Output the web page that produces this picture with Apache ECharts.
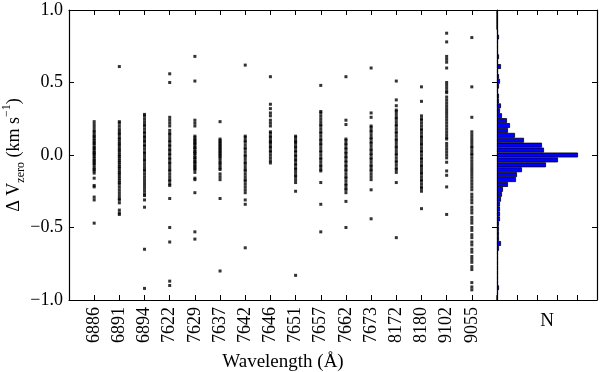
<!DOCTYPE html>
<html>
<head>
<meta charset="utf-8">
<script src="https://cdn.jsdelivr.net/npm/echarts@6/dist/echarts.min.js"></script>
<style>
  html, body { margin: 0; padding: 0; background: #fff; }
  #chart { width: 600px; height: 372px; }
</style>
</head>
<body>
<div id="chart"></div>
<script>
// wavelength columns, left to right
var wavelengths = ['6886', '6891', '6894', '7622', '7629', '7637', '7642', '7646',
                   '7651', '7657', '7662', '7673', '8172', '8180', '9102', '9055'];

// delta V_zero values read for each column (km/s)
var c6886 = [0.23, 0.21, 0.19, 0.17, 0.16, 0.145, 0.13, 0.125, 0.11, 0.1, 0.085, 0.08, 0.065, 0.05, 0.045, 0.03, 0.02, 0.01, 0.005, -0.01, -0.02, -0.035, -0.04, -0.055, -0.06, -0.075, -0.09, -0.1, -0.11, -0.125, -0.16, -0.21, -0.22, -0.29, -0.31, -0.47];
var c6891 = [0.61, 0.23, 0.22, 0.2, 0.18, 0.165, 0.15, 0.14, 0.12, 0.11, 0.095, 0.08, 0.07, 0.055, 0.04, 0.03, 0.015, 0.0, -0.01, -0.025, -0.04, -0.05, -0.065, -0.08, -0.09, -0.105, -0.12, -0.13, -0.145, -0.16, -0.175, -0.19, -0.2, -0.22, -0.24, -0.26, -0.28, -0.3, -0.31, -0.33, -0.38, -0.4, -0.41];
var c6894 = [0.28, 0.27, 0.25, 0.23, 0.21, 0.2, 0.18, 0.16, 0.15, 0.13, 0.12, 0.1, 0.09, 0.07, 0.06, 0.04, 0.02, 0.01, -0.01, -0.03, -0.04, -0.06, -0.08, -0.1, -0.11, -0.13, -0.15, -0.17, -0.19, -0.21, -0.23, -0.25, -0.27, -0.28, -0.31, -0.36, -0.65, -0.92];
var c7622 = [0.56, 0.5, 0.26, 0.24, 0.22, 0.2, 0.17, 0.15, 0.14, 0.12, 0.1, 0.09, 0.07, 0.06, 0.04, 0.03, 0.01, 0.0, -0.02, -0.03, -0.05, -0.06, -0.08, -0.1, -0.11, -0.13, -0.15, -0.17, -0.18, -0.2, -0.21, -0.3, -0.5, -0.6, -0.87, -0.9];
var c7629 = [0.68, 0.51, 0.24, 0.22, 0.2, 0.13, 0.12, 0.105, 0.1, 0.085, 0.08, 0.07, 0.055, 0.05, 0.04, 0.025, 0.02, 0.01, 0.0, -0.015, -0.02, -0.03, -0.045, -0.05, -0.06, -0.075, -0.08, -0.095, -0.1, -0.12, -0.16, -0.17, -0.26, -0.53, -0.58];
var c7637 = [0.23, 0.11, 0.1, 0.09, 0.08, 0.07, 0.06, 0.05, 0.04, 0.03, 0.02, 0.01, 0.0, -0.01, -0.02, -0.035, -0.05, -0.06, -0.075, -0.09, -0.1, -0.13, -0.15, -0.17, -0.3, -0.8];
var c7642 = [0.62, 0.13, 0.12, 0.1, 0.09, 0.07, 0.05, 0.04, 0.02, 0.0, -0.01, -0.03, -0.05, -0.06, -0.08, -0.1, -0.11, -0.13, -0.15, -0.17, -0.18, -0.2, -0.22, -0.24, -0.26, -0.31, -0.34, -0.64];
var c7646 = [0.54, 0.35, 0.32, 0.29, 0.27, 0.24, 0.22, 0.2, 0.16, 0.15, 0.13, 0.12, 0.1, 0.09, 0.08, 0.06, 0.05, 0.03, 0.02, 0.0, -0.02, -0.04, -0.055];
var c7651 = [0.13, 0.12, 0.1, 0.09, 0.08, 0.06, 0.05, 0.03, 0.02, 0.0, -0.01, -0.03, -0.04, -0.06, -0.07, -0.09, -0.1, -0.12, -0.14, -0.15, -0.17, -0.19, -0.25, -0.83];
var c7657 = [0.48, 0.3, 0.29, 0.27, 0.25, 0.23, 0.21, 0.2, 0.18, 0.16, 0.15, 0.13, 0.11, 0.1, 0.08, 0.07, 0.05, 0.03, 0.02, 0.0, -0.02, -0.03, -0.05, -0.07, -0.08, -0.1, -0.11, -0.19, -0.34, -0.53];
var c7662 = [0.54, 0.24, 0.21, 0.11, 0.1, 0.08, 0.07, 0.05, 0.04, 0.02, 0.01, -0.01, -0.02, -0.04, -0.05, -0.07, -0.08, -0.1, -0.11, -0.13, -0.15, -0.16, -0.18, -0.2, -0.21, -0.23, -0.24, -0.26, -0.32, -0.5];
var c7673 = [0.6, 0.29, 0.26, 0.2, 0.19, 0.17, 0.16, 0.14, 0.12, 0.11, 0.09, 0.08, 0.06, 0.04, 0.03, 0.01, 0.0, -0.02, -0.03, -0.05, -0.07, -0.08, -0.1, -0.11, -0.13, -0.15, -0.17, -0.24, -0.44];
var c8172 = [0.51, 0.38, 0.34, 0.31, 0.3, 0.28, 0.26, 0.25, 0.23, 0.21, 0.2, 0.18, 0.16, 0.15, 0.13, 0.11, 0.1, 0.08, 0.06, 0.05, 0.03, 0.01, 0.0, -0.02, -0.04, -0.05, -0.07, -0.09, -0.1, -0.12, -0.19, -0.57];
var c8180 = [0.47, 0.37, 0.27, 0.25, 0.24, 0.22, 0.2, 0.18, 0.17, 0.15, 0.13, 0.12, 0.1, 0.08, 0.07, 0.05, 0.03, 0.02, 0.0, -0.02, -0.03, -0.05, -0.07, -0.08, -0.1, -0.12, -0.13, -0.15, -0.17, -0.18, -0.2, -0.22, -0.23, -0.25, -0.37];
var c9102 = [0.84, 0.78, 0.68, 0.66, 0.64, 0.6, 0.5, 0.48, 0.46, 0.44, 0.43, 0.4, 0.38, 0.36, 0.34, 0.32, 0.3, 0.28, 0.26, 0.24, 0.22, 0.2, 0.18, 0.16, 0.14, 0.12, 0.11, 0.08, 0.06, 0.04, 0.02, 0.0, -0.02, -0.05, -0.11, -0.14, -0.22, -0.41];
var c9055 = [0.81, 0.47, 0.26, 0.16, 0.14, 0.12, 0.1, 0.08, 0.06, 0.05, 0.03, 0.01, 0.0, -0.02, -0.04, -0.06, -0.08, -0.1, -0.12, -0.14, -0.16, -0.18, -0.2, -0.22, -0.24, -0.27, -0.29, -0.31, -0.33, -0.36, -0.38, -0.4, -0.43, -0.45, -0.47, -0.5, -0.52, -0.55, -0.57, -0.6, -0.62, -0.65, -0.67, -0.7, -0.72, -0.74, -0.77, -0.79, -0.88, -0.91, -0.93];

var columns = [c6886, c6891, c6894, c7622, c7629, c7637, c7642, c7646,
               c7651, c7657, c7662, c7673, c8172, c8180, c9102, c9055];

// histogram counts, 59 equal bins from -1 (first) to +1 (last)
var histCounts = [0, 1, 2, 1, 1, 1, 1, 1, 1, 1,
                  2, 4, 2, 2, 2, 2, 3, 3, 3, 3,
                  4, 5, 6, 11, 19, 20, 25, 49, 61, 81,
                  47, 45, 27, 18, 11, 13, 10, 5, 3, 4,
                  2, 2, 1, 2, 3, 2, 1, 4, 1, 2,
                  1, 1, 1, 2, 1, 0, 0, 0, 0];

var points = [];
columns.forEach(function (col, i) {
    col.forEach(function (v) { points.push([i + 1, v]); });
});

var serif = 'Liberation Serif, DejaVu Serif, serif';
var fmtY = function (v) { return (v < 0 ? '\u2212' : '') + Math.abs(v).toFixed(1); };
var tick = { show: true, inside: true, length: 5, lineStyle: { color: '#000', width: 1 } };
var line = { show: true, onZero: false, lineStyle: { color: '#000', width: 1.2 } };

var chart = echarts.init(document.getElementById('chart'));
chart.setOption({
    animation: false,
    grid: [
        { left: 69, top: 10, width: 428, height: 290, outerBoundsMode: 'none', containLabel: false },
        { left: 497, top: 10, width: 100, height: 290, outerBoundsMode: 'none', containLabel: false }
    ],
    xAxis: [
        {
            gridIndex: 0, type: 'value', min: 0, max: 17, interval: 1,
            axisLine: line, axisTick: tick, splitLine: { show: false },
            axisLabel: {
                rotate: 90, margin: 7, color: '#000', fontSize: 18, fontFamily: serif,
                formatter: function (v) { return wavelengths[v - 1] || ''; }
            },
            name: 'Wavelength (\u00c5)', nameLocation: 'middle', nameGap: 53, nameMoveOverlap: false,
            nameTextStyle: { color: '#000', fontSize: 19, fontFamily: serif }
        },
        {
            gridIndex: 0, type: 'value', position: 'top', min: 0, max: 17, interval: 1,
            axisLine: line, axisTick: tick, axisLabel: { show: false }, splitLine: { show: false }
        },
        {
            gridIndex: 1, type: 'value', min: 0, max: 100, interval: 20,
            axisLine: line, axisTick: tick, axisLabel: { show: false }, splitLine: { show: false },
            name: 'N', nameLocation: 'middle', nameGap: 12,
            nameTextStyle: { color: '#000', fontSize: 19, fontFamily: serif }
        },
        {
            gridIndex: 1, type: 'value', position: 'top', min: 0, max: 100, interval: 20,
            axisLine: line, axisTick: tick, axisLabel: { show: false }, splitLine: { show: false }
        }
    ],
    yAxis: [
        {
            gridIndex: 0, type: 'value', min: -1, max: 1, interval: 0.5,
            axisLine: line, axisTick: tick, splitLine: { show: false },
            axisLabel: { margin: 6, color: '#000', fontSize: 18, fontFamily: serif, formatter: fmtY },
            name: '{a|\u0394 V}{sub|zero}{a| (km s}{sup|\u22121}{a|)}',
            nameLocation: 'middle', nameRotate: 90, nameGap: 42, nameMoveOverlap: false,
            nameTextStyle: {
                color: '#000', fontFamily: serif,
                rich: {
                    a: { fontSize: 18, fontFamily: serif, color: '#000', lineHeight: 26, verticalAlign: 'middle' },
                    sub: { fontSize: 12, fontFamily: serif, color: '#000', lineHeight: 26, verticalAlign: 'bottom' },
                    sup: { fontSize: 12, fontFamily: serif, color: '#000', lineHeight: 26, verticalAlign: 'top' }
                }
            }
        },
        {
            gridIndex: 0, type: 'value', position: 'right', min: -1, max: 1, interval: 0.5,
            axisLine: line, axisTick: tick, axisLabel: { show: false }, splitLine: { show: false }
        },
        {
            gridIndex: 1, type: 'category', position: 'left',
            data: histCounts.map(function (c, i) { return i; }),
            boundaryGap: true,
            axisLine: { show: false }, axisTick: { show: false }, axisLabel: { show: false }
        },
        {
            gridIndex: 1, type: 'value', position: 'right', min: -1, max: 1, interval: 0.5,
            axisLine: line, axisTick: tick, axisLabel: { show: false }, splitLine: { show: false }
        }
    ],
    series: [
        {
            type: 'scatter', xAxisIndex: 0, yAxisIndex: 0,
            symbol: 'rect', symbolSize: 3,
            itemStyle: { color: '#000' },
            data: points
        },
        {
            type: 'bar', xAxisIndex: 2, yAxisIndex: 2,
            barCategoryGap: 0,
            itemStyle: { color: '#0000ff', borderColor: '#000', borderWidth: 0.8 },
            data: histCounts
        }
    ]
});
</script>
</body>
</html>
